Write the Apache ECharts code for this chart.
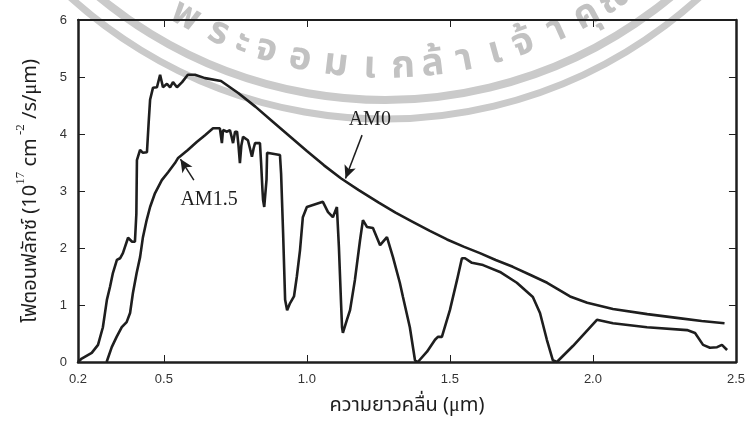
<!DOCTYPE html>
<html>
<head>
<meta charset="utf-8">
<script src="https://cdn.jsdelivr.net/npm/echarts@6/dist/echarts.min.js"></script>
<style>
  html, body { margin:0; padding:0; background:#fff; }
  #main { width:748px; height:427px; }
</style>
</head>
<body>
<div id="main"></div>
<script>
// photon flux spectra (wavelength in um, flux in 1e17 cm^-2/s/um)
var am0Wl   = [0.20,0.213,0.248,0.270,0.287,0.301,0.312,0.322,0.336,0.347,0.357,0.375,0.389,0.399,0.404,0.406,0.417,0.427,0.441,0.447,0.452,0.462,0.476,0.487,0.497,0.511,0.522,0.532,0.546,0.564,0.584,0.609,0.644,0.70,0.76,0.82,0.88,0.94,1.00,1.06,1.12,1.18,1.25,1.31,1.37,1.43,1.49,1.55,1.605,1.66,1.72,1.78,1.84,1.88,1.92,1.98,2.07,2.19,2.30,2.38,2.46];
var am0Flux = [0.0,0.06,0.16,0.30,0.61,1.09,1.32,1.56,1.79,1.82,1.91,2.18,2.11,2.11,2.60,3.54,3.72,3.67,3.68,4.20,4.60,4.81,4.82,5.04,4.82,4.88,4.82,4.91,4.82,4.91,5.04,5.04,4.98,4.93,4.72,4.48,4.22,3.96,3.70,3.45,3.22,3.02,2.80,2.62,2.46,2.30,2.15,2.02,1.91,1.79,1.67,1.53,1.39,1.27,1.15,1.04,0.93,0.84,0.77,0.72,0.68];

var am15Wl   = [0.300,0.318,0.335,0.353,0.370,0.382,0.392,0.405,0.417,0.427,0.440,0.452,0.469,0.493,0.515,0.539,0.550,0.584,0.615,0.644,0.672,0.696,0.700,0.703,0.707,0.721,0.731,0.737,0.742,0.749,0.756,0.761,0.766,0.771,0.777,0.794,0.801,0.808,0.814,0.819,0.836,0.840,0.845,0.847,0.851,0.856,0.859,0.861,0.864,0.906,0.910,0.917,0.924,0.931,0.941,0.955,0.965,0.976,0.986,1.000,1.056,1.074,1.091,1.105,1.112,1.119,1.123,1.126,1.140,1.151,1.168,1.186,1.196,1.210,1.231,1.256,1.280,1.301,1.325,1.336,1.360,1.378,1.388,1.420,1.448,1.458,1.472,1.500,1.525,1.542,1.553,1.577,1.616,1.675,1.734,1.790,1.815,1.839,1.860,1.874,1.930,2.014,2.070,2.189,2.329,2.357,2.385,2.409,2.434,2.451,2.469];
var am15Flux = [0.0,0.26,0.44,0.61,0.70,0.86,1.21,1.56,1.84,2.19,2.49,2.72,2.96,3.19,3.33,3.49,3.58,3.72,3.86,3.98,4.10,4.10,3.95,3.84,4.07,4.04,4.07,3.95,3.84,4.04,4.04,3.80,3.49,3.80,3.95,3.89,3.75,3.60,3.75,3.84,3.84,3.50,3.00,2.84,2.72,2.74,3.20,3.67,3.68,3.63,3.30,2.26,1.09,0.91,1.03,1.15,1.50,1.96,2.54,2.72,2.81,2.63,2.54,2.72,2.02,1.10,0.61,0.51,0.74,0.91,1.44,2.14,2.49,2.37,2.35,2.05,2.19,1.84,1.39,1.14,0.61,0.03,0.0,0.18,0.39,0.44,0.44,0.91,1.44,1.82,1.82,1.74,1.70,1.58,1.39,1.14,0.86,0.39,0.03,0.0,0.28,0.74,0.68,0.61,0.56,0.51,0.30,0.25,0.26,0.30,0.21];

var xLabelValues = [0.2,0.5,1.0,1.5,2.0,2.5];
var xTickValues  = [0.5,1.0,1.5,2.0];

// watermark glyphs (grapheme clusters) and their angle on the arc, degrees
var wmChars  = ['พ','ร','ะ','จ','อ','ม','เ','ก','ล้','า','เ','จ้','า','คุ','ณ'];
var wmAngles = [-28.7,-23.6,-20.0,-16.6,-11.8,-6.8,-2.1,2.5,6.6,11.0,15.4,19.4,24.4,29.0,33.8];

function zip(a, b){
  var out = [];
  for (var i = 0; i < a.length; i++) out.push([a[i], b[i]]);
  return out;
}

var ink = '#1e1e1e';
var thaiFont = '"Noto Sans Thai","Noto Sans Thai UI","Noto Looped Thai","Loma","Garuda","Norasi","Liberation Serif",serif';

// watermark graphics
var wm = [];
var cx = 385, cy = -348;
wm.push({type:'arc', z:-10, shape:{cx:cx, cy:cy, r:448, startAngle:0.55, endAngle:2.55}, style:{stroke:'#cacaca', lineWidth:8, fill:null}});
wm.push({type:'arc', z:-10, shape:{cx:cx, cy:cy, r:467, startAngle:0.55, endAngle:2.6}, style:{stroke:'#cacaca', lineWidth:7, fill:null}});
for (var k = 0; k < wmChars.length; k++) {
  var a = wmAngles[k] * Math.PI / 180;
  wm.push({
    type:'text', z:-10,
    x: cx + 418 * Math.sin(a), y: cy + 418 * Math.cos(a),
    rotation: a,
    style:{text: wmChars[k], fill:'#c2c2c2', font:'bold 38px ' + thaiFont, align:'center', verticalAlign:'middle'}
  });
}

var myChart = echarts.init(document.getElementById('main'));
var option = {
  animation:false,
  backgroundColor:'#fff',
  graphic: wm,
  grid:{left:78, right:12, top:20, bottom:65, containLabel:false},
  xAxis:[
    {
      type:'value', min:0.2, max:2.5, position:'bottom',
      name:'ความยาวคลื่น (μm)', nameLocation:'middle', nameGap:35,
      nameTextStyle:{fontSize:20, color:ink, fontFamily:thaiFont},
      axisLine:{show:true, onZero:false, lineStyle:{color:ink, width:2.5}},
      axisTick:{show:true, inside:true, length:7, customValues:xTickValues, lineStyle:{color:ink, width:1}},
      axisLabel:{show:true, customValues:xLabelValues, margin:11, fontSize:13, color:'#333', fontFamily:'Liberation Sans, Arial, sans-serif',
        formatter:function(v){ return v.toFixed(1); }},
      splitLine:{show:false}
    },
    {
      type:'value', min:0.2, max:2.5, position:'top',
      axisLine:{show:true, onZero:false, lineStyle:{color:ink, width:2}},
      axisTick:{show:true, inside:true, length:7, customValues:xTickValues, lineStyle:{color:ink, width:1}},
      axisLabel:{show:false},
      splitLine:{show:false}
    }
  ],
  yAxis:[
    {
      type:'value', min:0, max:6, interval:1, position:'left',
      name:'{t|โฟตอนฟลักซ์ (10}{s|17}{t| cm}{s| -2}{t| /s/μm)}',
      nameLocation:'middle', nameGap:36, nameRotate:90,
      nameTextStyle:{
        rich:{
          t:{fontSize:20, color:ink, fontFamily:thaiFont, lineHeight:28, verticalAlign:'bottom'},
          s:{fontSize:13, color:ink, fontFamily:'Liberation Serif, serif', lineHeight:28, verticalAlign:'top'}
        }
      },
      axisLine:{show:true, onZero:false, lineStyle:{color:ink, width:2.5}},
      axisTick:{show:true, inside:true, length:7, lineStyle:{color:ink, width:1}},
      axisLabel:{show:true, margin:11, fontSize:13, color:'#333', fontFamily:'Liberation Sans, Arial, sans-serif'},
      splitLine:{show:false}
    },
    {
      type:'value', min:0, max:6, interval:1, position:'right',
      axisLine:{show:true, onZero:false, lineStyle:{color:ink, width:2.5}},
      axisTick:{show:true, inside:true, length:7, lineStyle:{color:ink, width:1}},
      axisLabel:{show:false},
      splitLine:{show:false}
    }
  ],
  series:[
    {
      name:'AM0', type:'line', data:zip(am0Wl, am0Flux),
      symbol:'none', smooth:false,
      lineStyle:{color:ink, width:2.6},
      markPoint:{
        symbol:'circle', symbolSize:0,
        label:{show:true, formatter:'AM0', fontSize:20, color:ink, fontFamily:'Liberation Serif, serif'},
        data:[{coord:[1.22, 4.25]}]
      },
      markLine:{
        silent:true, symbol:['none','arrow'], symbolSize:[9,13],
        label:{show:false},
        lineStyle:{color:ink, width:1.5, type:'solid'},
        data:[[{coord:[1.193, 3.98]}, {coord:[1.135, 3.22]}]]
      }
    },
    {
      name:'AM1.5', type:'line', data:zip(am15Wl, am15Flux),
      symbol:'none', smooth:false,
      lineStyle:{color:ink, width:2.6},
      markPoint:{
        symbol:'circle', symbolSize:0,
        label:{show:true, formatter:'AM1.5', fontSize:20, color:ink, fontFamily:'Liberation Serif, serif'},
        data:[{coord:[0.658, 2.84]}]
      },
      markLine:{
        silent:true, symbol:['none','arrow'], symbolSize:[9,13],
        label:{show:false},
        lineStyle:{color:ink, width:1.5, type:'solid'},
        data:[[{coord:[0.605, 3.19]}, {coord:[0.558, 3.56]}]]
      }
    }
  ]
};
myChart.setOption(option);
</script>
</body>
</html>
